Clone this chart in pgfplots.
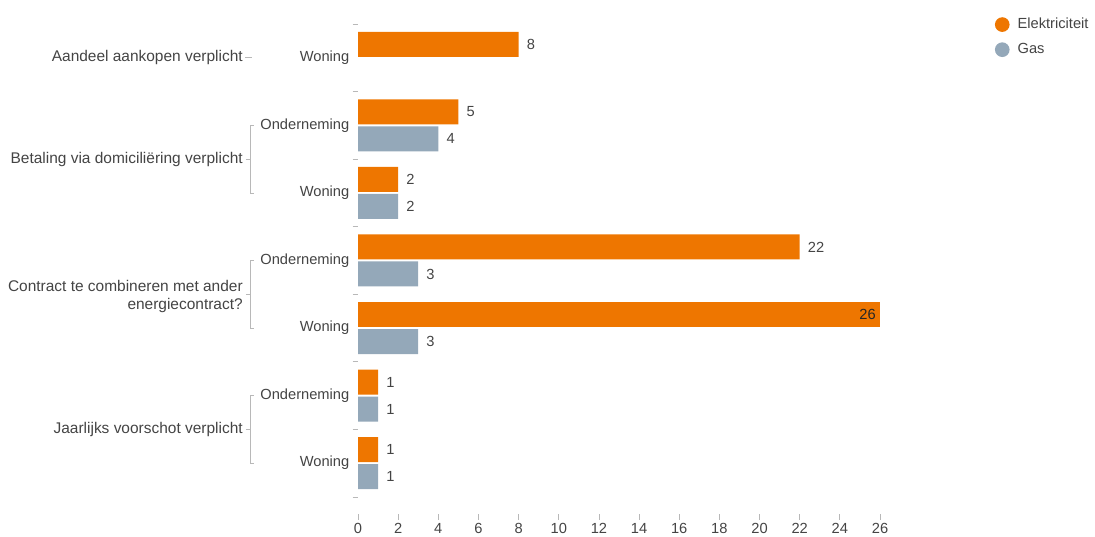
\documentclass[border=0pt]{standalone}
\usepackage{pgfplots}
\pgfplotsset{compat=1.18}
\usepackage{fontspec}
\setmainfont{Liberation Sans}
\definecolor{elec}{HTML}{EE7600}
\definecolor{gas}{HTML}{94A8B9}
\definecolor{txt}{HTML}{444444}
\definecolor{tk}{HTML}{B8B8B8}
\begin{document}
\begin{tikzpicture}[font=\fontsize{11pt}{13.5pt}\selectfont]
\useasboundingbox (0,0) rectangle (821.25pt,402pt);
\begin{axis}[
 at={(268.5pt,384pt)}, anchor=north west,
 scale only axis, width=391.5pt, height=367.5pt,
 clip=false,
 xmin=0, xmax=26, ymin=-0.752, ymax=6.5,
 axis line style={draw=none},
 xtick={0,2,...,26}, ytick={0,...,6},
 yticklabels={Woning,Onderneming,Woning,Onderneming,Woning,Onderneming,Woning},
 minor ytick={-0.5,0.5,...,6.5},
 xtick pos=left, ytick pos=left,
 tick align=outside, major tick length=4.5pt, minor tick length=4pt,
 major y tick style={draw=none},
 minor y tick style={draw=tk, line width=0.6pt},
 major x tick style={draw=tk, line width=0.6pt},
 tick label style={text=txt, font=\fontsize{11pt}{13pt}\selectfont},
 /pgf/number format/assume math mode=true,
 y tick label style={xshift=1.5pt},
 x tick label style={yshift=1pt},
 xbar, bar width=18.75pt,
 legend cell align=left,
 legend style={at={(1,1)}, anchor=north west, xshift=86pt, yshift=6.5pt, draw=none, fill=none,
   font=\fontsize{11pt}{13pt}\selectfont, text=txt, row sep=5.5pt, inner sep=0pt,
   /tikz/every odd column/.append style={column sep=4pt}},
 legend image code/.code={\path[#1,draw=none] (3pt,0pt) circle (5.5pt);},
 nodes near coords,
 every node near coord/.append style={text=txt, anchor=west, inner sep=0pt, xshift=6pt, font=\fontsize{11pt}{13pt}\selectfont},
]
\addplot[fill=elec, draw=none, bar shift=10.125pt] coordinates {(8,6) (5,5) (2,4) (22,3) (1,1) (1,0)};
\addlegendentry{Elektriciteit}
\addplot[fill=gas, draw=none, bar shift=-10.125pt] coordinates {(4,5) (2,4) (3,3) (3,2) (1,1) (1,0)};
\addlegendentry{Gas}
\addplot[fill=elec, draw=none, bar shift=10.125pt, forget plot,
  every node near coord/.append style={anchor=east, xshift=-9pt, text=black!85}] coordinates {(26,2)};
% group labels
\tikzset{grp/.style={anchor=east, inner xsep=0pt, text=txt, font=\fontsize{11.6pt}{13.5pt}\selectfont}}
\node[grp] at ([xshift=-86.25pt]axis cs:0,6) {Aandeel aankopen verplicht};
\node[grp] at ([xshift=-86.25pt]axis cs:0,4.5) {Betaling via domiciliëring verplicht};
\node[grp, align=right] at ([xshift=-86.25pt,yshift=-1.5pt]axis cs:0,2.5) {Contract te combineren met ander\\energiecontract?};
\node[grp] at ([xshift=-86.25pt]axis cs:0,0.5) {Jaarlijks voorschot verplicht};
% brackets
\draw[tk, line width=0.6pt] ([xshift=-84.5pt]axis cs:0,6) -- ([xshift=-79.5pt]axis cs:0,6);
\draw[tk, line width=0.6pt] ([xshift=-78pt]axis cs:0,5) -- ([xshift=-81pt]axis cs:0,5) -- ([xshift=-81pt]axis cs:0,4) -- ([xshift=-78pt]axis cs:0,4);
\draw[tk, line width=0.6pt] ([xshift=-84pt]axis cs:0,4.5) -- ([xshift=-81pt]axis cs:0,4.5);
\draw[tk, line width=0.6pt] ([xshift=-78pt]axis cs:0,3) -- ([xshift=-81pt]axis cs:0,3) -- ([xshift=-81pt]axis cs:0,2) -- ([xshift=-78pt]axis cs:0,2);
\draw[tk, line width=0.6pt] ([xshift=-84pt]axis cs:0,2.5) -- ([xshift=-81pt]axis cs:0,2.5);
\draw[tk, line width=0.6pt] ([xshift=-78pt]axis cs:0,1) -- ([xshift=-81pt]axis cs:0,1) -- ([xshift=-81pt]axis cs:0,0) -- ([xshift=-78pt]axis cs:0,0);
\draw[tk, line width=0.6pt] ([xshift=-84pt]axis cs:0,0.5) -- ([xshift=-81pt]axis cs:0,0.5);
\end{axis}
\end{tikzpicture}
\end{document}
